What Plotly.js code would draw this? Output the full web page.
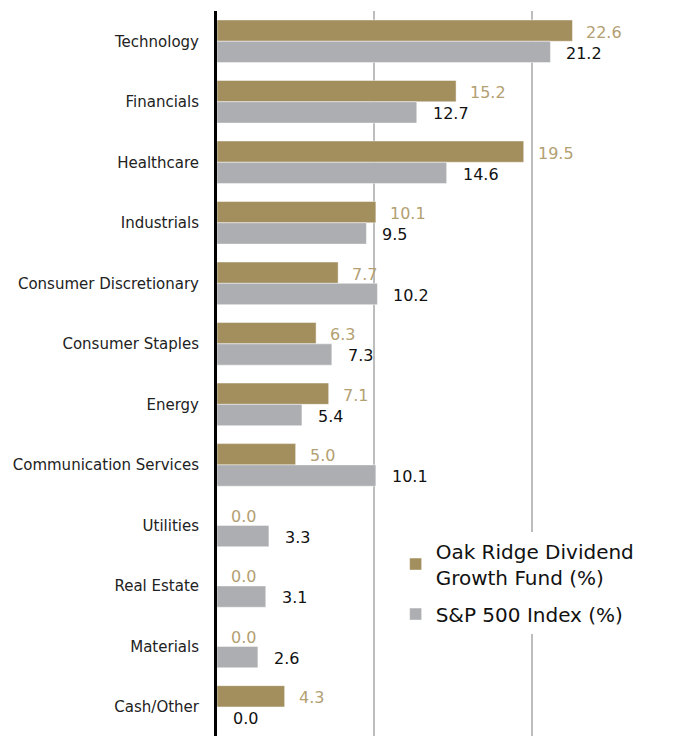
<!DOCTYPE html>
<html>
<head>
<meta charset="utf-8">
<script src="https://cdn.plot.ly/plotly-3.0.1.min.js"></script>
<style>html,body{margin:0;padding:0;background:#fff;}#chart{width:681px;height:736px;}</style>
</head>
<body>
<div id="chart"></div>
<script>
var categories = ["Technology","Financials","Healthcare","Industrials","Consumer Discretionary","Consumer Staples","Energy","Communication Services","Utilities","Real Estate","Materials","Cash/Other"];
var fundValues = [22.6,15.2,19.5,10.1,7.7,6.3,7.1,5.0,0.0,0.0,0.0,4.3];
var indexValues = [21.2,12.7,14.6,9.5,10.2,7.3,5.4,10.1,3.3,3.1,2.6,0.0];
var fundName = "Oak Ridge Dividend<br>Growth Fund (%)";
var indexName = "S&P 500 Index (%)";

var GOLD = "#A38E5E", GRAY = "#ADAEB1", GOLDTXT = "#B3A072";
var FONT = "DejaVu Sans, sans-serif";

var traces = [
  {type:"bar", orientation:"h", name:fundName, legendgroup:"fund", y:categories, x:fundValues,
   marker:{color:GOLD, line:{color:"rgba(255,255,255,0.45)", width:1}}, hoverinfo:"x+y"},
  {type:"bar", orientation:"h", name:indexName, legendgroup:"index", y:categories, x:indexValues,
   marker:{color:GRAY, line:{color:"rgba(255,255,255,0.45)", width:1}}, hoverinfo:"x+y"}
];

var annotations = [];
categories.forEach(function(c,i){
  annotations.push({x:fundValues[i], y:c, xref:"x", yref:"y", text:fundValues[i].toFixed(1),
    showarrow:false, xanchor:"left", xshift:12, yshift:9, font:{family:FONT, size:16, color:GOLDTXT}});
  annotations.push({x:indexValues[i], y:c, xref:"x", yref:"y", text:indexValues[i].toFixed(1),
    showarrow:false, xanchor:"left", xshift:14, yshift:-12, font:{family:FONT, size:16, color:"#111"}});
});

var layout = {
  width:681, height:736,
  margin:{l:217, r:0, t:11, b:0, pad:0},
  paper_bgcolor:"#fff", plot_bgcolor:"#fff",
  barmode:"group", bargap:0.296, bargroupgap:0,
  font:{family:FONT, color:"#222"},
  showlegend:true,
  legend:{x:0.385, y:0.282, xanchor:"left", yanchor:"top", bgcolor:"#fff",
    font:{family:FONT, size:20, color:"#111"}, traceorder:"grouped", tracegroupgap:8},
  xaxis:{range:[0,29.5], dtick:10, tick0:0, showgrid:true, gridcolor:"#BDBDBD", gridwidth:2,
    zeroline:false, showticklabels:false, ticks:"", fixedrange:true},
  yaxis:{type:"category", range:[11.48,-0.5], showgrid:false, zeroline:false,
    showline:true, linecolor:"#000", linewidth:3, ticks:"", ticklabelstandoff:12,
    tickfont:{family:FONT, size:15, color:"#222"}, fixedrange:true},
  annotations:annotations
};

Plotly.newPlot("chart", traces, layout, {displayModeBar:false, staticPlot:true});
</script>
</body>
</html>
